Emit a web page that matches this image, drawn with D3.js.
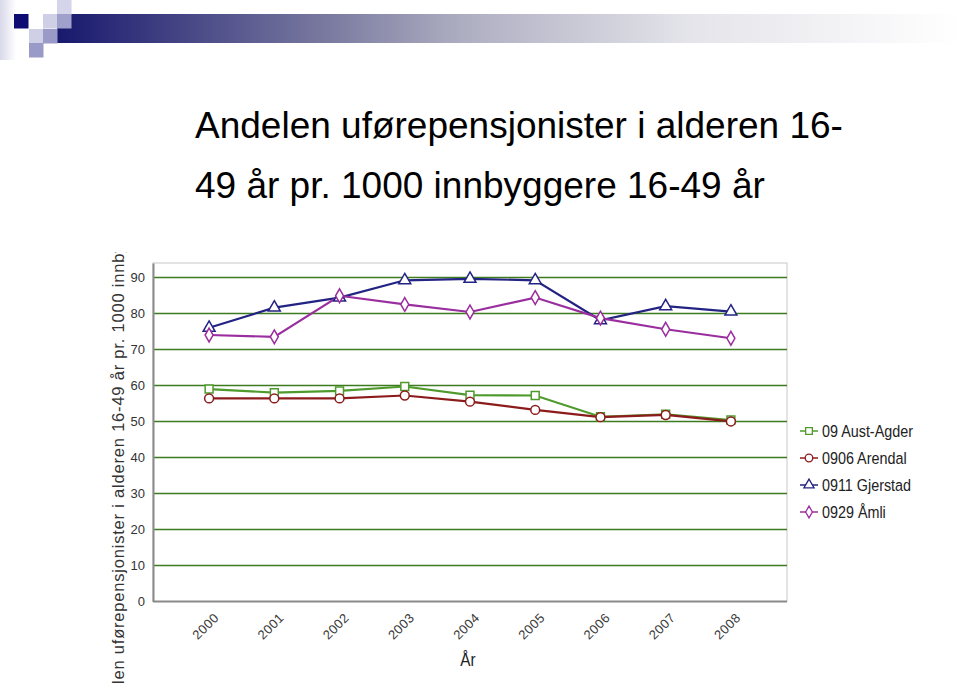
<!DOCTYPE html>
<html>
<head>
<meta charset="utf-8">
<script src="https://cdn.jsdelivr.net/npm/d3@7"></script>
<style>
  body { margin: 0; background: #fff; }
  svg { display: block; font-family: "Liberation Sans", Arial, sans-serif; }
</style>
</head>
<body>
<div class="chart"></div>
<script>
const years = ['2000', '2001', '2002', '2003', '2004', '2005', '2006', '2007', '2008'];
const austAgder = [59, 58, 58.5, 59.7, 57.3, 57.2, 51.3, 52, 50.4];
const arendal = [56.4, 56.4, 56.4, 57.2, 55.5, 53.2, 51.2, 51.8, 50];
const gjerstad = [76, 81.6, 84.4, 89.2, 89.6, 89.2, 78.1, 82, 80.5];
const amli = [74, 73.5, 84.9, 82.5, 80.4, 84.4, 78.7, 75.6, 73.1];
const yTicks = [0, 10, 20, 30, 40, 50, 60, 70, 80, 90];
const seriesNames = ['09 Aust-Agder', '0906 Arendal', '0911 Gjerstad', '0929 Åmli'];

const series = [
  {name: seriesNames[0], values: austAgder, color: '#4f9a2c', shape: d3.symbolSquare},
  {name: seriesNames[1], values: arendal, color: '#8c1c1c', shape: d3.symbolCircle},
  {name: seriesNames[2], values: gjerstad, color: '#232383', shape: d3.symbolTriangle},
  {name: seriesNames[3], values: amli, color: '#9a2e9e', shape: d3.symbolDiamond}
];

const svg = d3.select('.chart')
              .append('svg')
              .attr('width', 960)
              .attr('height', 684);

// header decoration
const defs = svg.append('defs');
const grad = defs.append('linearGradient').attr('id', 'bar').attr('x1', '0').attr('x2', '1');
grad.append('stop').attr('offset', '0').attr('stop-color', '#18186e');
grad.append('stop').attr('offset', '0.3').attr('stop-color', '#7a7aa0');
grad.append('stop').attr('offset', '0.45').attr('stop-color', '#aeaec2');
grad.append('stop').attr('offset', '0.7').attr('stop-color', '#e4e4ea');
grad.append('stop').attr('offset', '1').attr('stop-color', '#ffffff');
const lgrad = defs.append('linearGradient').attr('id', 'edge').attr('x1', '0').attr('x2', '1');
lgrad.append('stop').attr('offset', '0').attr('stop-color', '#d8d8ea');
lgrad.append('stop').attr('offset', '1').attr('stop-color', '#ffffff');

svg.append('rect').attr('x', 0).attr('y', 0).attr('width', 16).attr('height', 60).attr('fill', 'url(#edge)');
svg.append('rect').attr('x', 57).attr('y', 14).attr('width', 903).attr('height', 29).attr('fill', 'url(#bar)');
const squares = [
  [14, 14, '#0c0c72'], [57, 0, '#d4d4ea'], [43, 14, '#cfcfe6'], [57, 14, '#a0a0cc'],
  [29, 29, '#cfcfe6'], [43, 29, '#9a9ac8'], [29, 43, '#9a9ac8']
];
svg.append('g').selectAll('rect').data(squares).join('rect')
  .attr('x', d => d[0]).attr('y', d => d[1])
  .attr('width', 14.5).attr('height', 14.5)
  .attr('fill', d => d[2]);

// title
const title = svg.append('text').attr('x', 195).attr('font-size', 37).attr('fill', '#000');
title.append('tspan').attr('x', 195).attr('y', 138).text('Andelen uførepensjonister i alderen 16-');
title.append('tspan').attr('x', 195).attr('y', 198).text('49 år pr. 1000 innbyggere 16-49 år');

// plot area
const pLeft = 153, pRight = 787, pTop = 263, pBottom = 601.5;
const x = d3.scalePoint().domain(years).range([pLeft, pRight]).padding(0.86);
const y = d3.scaleLinear().domain([0, 94]).range([pBottom, pTop]);

svg.append('rect')
  .attr('x', pLeft).attr('y', pTop)
  .attr('width', pRight - pLeft).attr('height', pBottom - pTop)
  .attr('fill', '#fff').attr('stroke', '#c8c8c8');

svg.append('g').selectAll('line').data(yTicks.filter(d => d > 0)).join('line')
  .attr('x1', pLeft).attr('x2', pRight)
  .attr('y1', d => y(d)).attr('y2', d => y(d))
  .attr('stroke', '#3e7a1e').attr('stroke-width', 1.5);

// axes
const yAxis = svg.append('g')
  .attr('transform', `translate(${pLeft},0)`)
  .call(d3.axisLeft(y).tickValues(yTicks).tickSize(0).tickPadding(8));
yAxis.select('.domain').attr('stroke', '#8a8a8a').attr('stroke-width', 2);
yAxis.selectAll('text').attr('font-size', 13).attr('fill', '#333')
  .attr('font-family', '"Liberation Sans", Arial, sans-serif');

const xAxis = svg.append('g')
  .attr('transform', `translate(0,${pBottom})`)
  .call(d3.axisBottom(x).tickSize(0).tickPadding(0));
xAxis.select('.domain').attr('d', `M${pLeft},0H${pRight}`).attr('stroke', '#8a8a8a').attr('stroke-width', 2);
xAxis.selectAll('text')
  .attr('font-size', 13).attr('fill', '#3a3a3a')
  .attr('letter-spacing', 0.5)
  .attr('font-family', '"Liberation Sans", Arial, sans-serif')
  .attr('text-anchor', 'end')
  .attr('dy', 0)
  .attr('transform', 'translate(10,17) rotate(-45)');

// axis titles
svg.append('text')
  .attr('transform', 'translate(468,666) scale(0.85,1)')
  .attr('text-anchor', 'middle')
  .attr('font-size', 18)
  .attr('fill', '#222')
  .text('År');

defs.append('clipPath').attr('id', 'yclip')
  .append('rect').attr('x', 100).attr('y', 252).attr('width', 40).attr('height', 432);
const yTitleText = 'Andelen uførepensjonister i alderen 16-49 år pr. 1000 innbyggere 16-49 år';
const probe = svg.append('text').attr('font-size', 16.5).attr('letter-spacing', 0.8).text('Ande');
const skip = probe.node().getComputedTextLength();
probe.remove();
svg.append('g').attr('clip-path', 'url(#yclip)')
  .append('text')
  .attr('transform', `translate(124,${684 + skip}) rotate(-90)`)
  .attr('font-size', 16.5)
  .attr('letter-spacing', 0.8)
  .attr('fill', '#333')
  .text(yTitleText);

// lines and markers
const line = d3.line().x((d, i) => x(years[i])).y(d => y(d));
const g = svg.append('g');
series.forEach(s => {
  g.append('path')
    .attr('d', line(s.values))
    .attr('fill', 'none')
    .attr('stroke', s.color)
    .attr('stroke-width', 2.2);
});
series.forEach(s => {
  g.append('g').selectAll('path').data(s.values).join('path')
    .attr('transform', (d, i) => `translate(${x(years[i])},${y(d)})`)
    .attr('d', d3.symbol().type(s.shape).size(s.shape === d3.symbolDiamond ? 55 : 62))
    .attr('fill', '#fff')
    .attr('stroke', s.color)
    .attr('stroke-width', 1.5);
});

// legend
const legend = svg.append('g').attr('transform', 'translate(800,431)');
const item = legend.selectAll('g').data(series).join('g')
  .attr('transform', (d, i) => `translate(0,${i * 27})`);
item.append('line')
  .attr('x1', 0).attr('x2', 18).attr('y1', 0).attr('y2', 0)
  .attr('stroke', d => d.color).attr('stroke-width', 1.5);
item.append('path')
  .attr('transform', 'translate(9,0)')
  .attr('d', d => d3.symbol().type(d.shape).size(d.shape === d3.symbolDiamond ? 40 : 45)())
  .attr('fill', '#fff')
  .attr('stroke', d => d.color)
  .attr('stroke-width', 1.3);
item.append('text')
  .attr('transform', 'translate(22,0) scale(0.845,1)')
  .attr('dy', '0.36em')
  .attr('font-size', 17)
  .attr('fill', '#222')
  .text(d => d.name);
</script>
</body>
</html>
